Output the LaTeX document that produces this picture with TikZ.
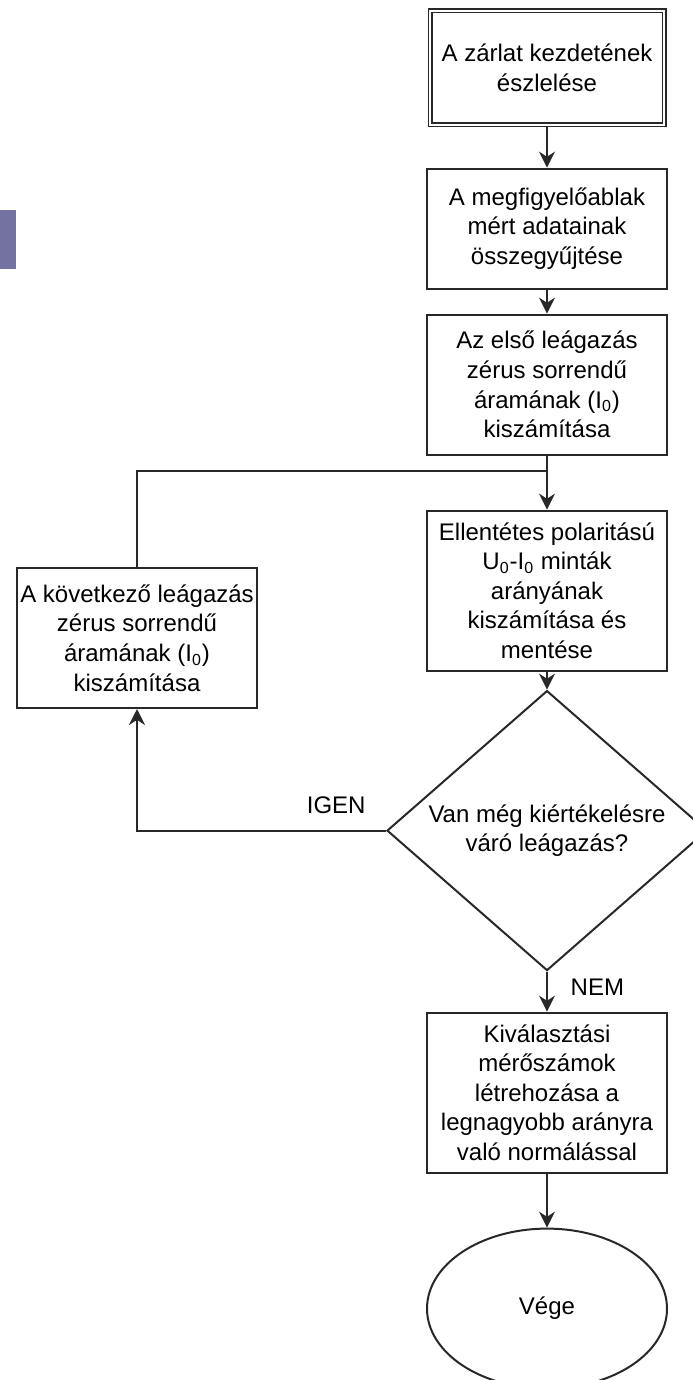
\documentclass[tikz,border=0pt]{standalone}
\usepackage{xcolor}
\usepackage{fontspec}
\setmainfont{Liberation Sans}
\usetikzlibrary{positioning,shapes.geometric,arrows.meta}
\definecolor{tabpurple}{RGB}{116,114,160}
\definecolor{linegray}{RGB}{40,40,40}

\tikzset{
  every node/.style={font=\fontsize{12}{14.8}\selectfont},
  block/.style={draw=linegray, line width=1pt, minimum width=120pt, inner sep=0pt, align=center},
  startbox/.style={block, line width=0.6pt, double, double distance=1.3pt, minimum width=117pt},
  decision/.style={diamond, aspect=1.143, draw=linegray, line width=1pt, minimum width=160pt, minimum height=140pt, inner sep=0pt, align=center},
  endoval/.style={ellipse, draw=linegray, line width=1pt, minimum width=120pt, minimum height=80pt, inner sep=0pt},
  flow/.style={draw=linegray, line width=1pt, -{Stealth[length=8pt,width=8pt]}},
  joinline/.style={draw=linegray, line width=1pt}
}

\begin{document}
\begin{tikzpicture}
  \useasboundingbox (0,0) rectangle (346pt,-690pt);
  \fill[tabpurple] (0,-105pt) rectangle (8pt,-134.5pt);

  \node[startbox, minimum height=57pt] (start) at (273.5pt,-34pt) {A zárlat kezdetének\\észlelése};
  \node[block, minimum height=60pt, below=21pt of start] (collect) {A megfigyelőablak\\mért adatainak\\összegyűjtése};
  \node[block, minimum height=70pt, below=12pt of collect] (first) {Az első leágazás\\zérus sorrendű\\áramának (I\textsubscript{0})\\kiszámítása};
  \node[block, minimum height=80pt, below=27pt of first] (ratio) {Ellentétes polaritású\\U\textsubscript{0}-I\textsubscript{0} minták\\arányának\\kiszámítása és\\mentése};
  \node[decision, below=9pt of ratio] (ask) {Van még kiértékelésre\\váró leágazás?};
  \node[block, minimum height=80pt, below=20pt of ask] (norm) {Kiválasztási\\mérőszámok\\létrehozása a\\legnagyobb arányra\\való normálással};
  \node[endoval, below=27pt of norm] (end) {Vége};
  \node[block, minimum height=70pt] (next) at (68.5pt,-319pt) {A következő leágazás\\zérus sorrendű\\áramának (I\textsubscript{0})\\kiszámítása};
  \coordinate[below=7.5pt of first] (join);

  \draw[flow] (start) -- (collect);
  \draw[flow] (collect) -- (first);
  \draw[flow] (first) -- (ratio);
  \draw[flow] (ratio) -- (ask);
  \draw[flow] (ask) -- node[right=8pt, pos=0.4] {NEM} (norm);
  \draw[flow] (norm) -- (end);
  \draw[flow] (ask.west) -| node[above=4.5pt, pos=0.1] {IGEN} (next.south);
  \draw[joinline] (next.north) |- (join);
\end{tikzpicture}
\end{document}
